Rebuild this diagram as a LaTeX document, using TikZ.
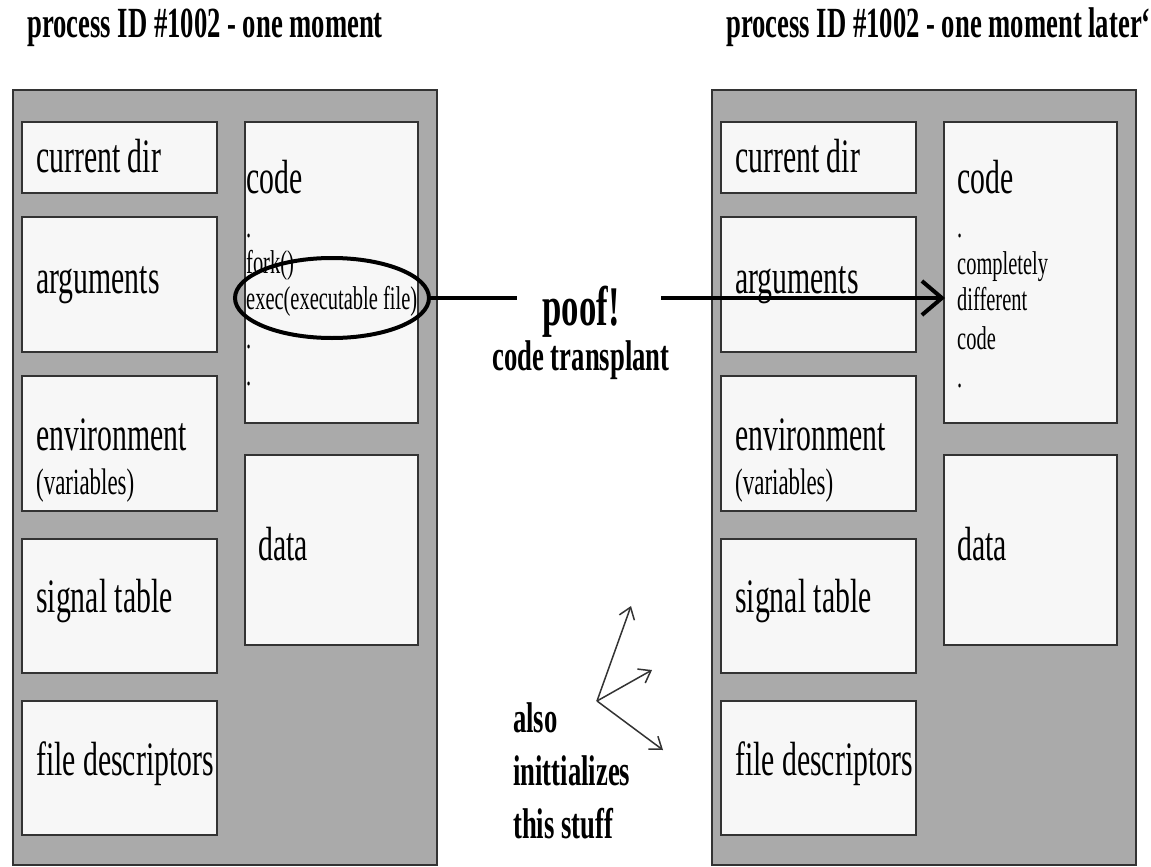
\documentclass[tikz,border=0pt]{standalone}
\usepackage{fontspec}
\setmainfont[FakeStretch=0.62]{Liberation Serif}
\usetikzlibrary{arrows.meta,shapes.geometric}
\definecolor{outerfill}{HTML}{AAAAAA}
\definecolor{innerfill}{HTML}{F7F7F7}
\definecolor{edgecol}{HTML}{333333}
\tikzset{
  outerbox/.style={draw=edgecol, line width=1.5pt, fill=outerfill, inner sep=0pt},
  innerbox/.style={draw=edgecol, line width=2.5pt, fill=innerfill, inner sep=0pt},
  biglbl/.style={anchor=base west, inner sep=0pt, font=\fontsize{48}{52}\selectfont},
  varlbl/.style={anchor=base west, inner sep=0pt, font=\fontsize{37}{40}\selectfont},
  smalllbl/.style={anchor=base west, inner sep=0pt, font=\fontsize{33}{36}\selectfont},
  titlelbl/.style={anchor=base west, inner sep=0pt, font=\bfseries\fontsize{43}{46}\selectfont},
  boldlbl/.style={anchor=base, inner sep=0pt, font=\bfseries\fontsize{43}{46}\selectfont},
  pooflbl/.style={anchor=base, inner sep=0pt, font=\bfseries\fontsize{56}{60}\selectfont},
  thickline/.style={line width=4pt, black},
  thinarrow/.style={line width=1.5pt, draw=black!80, -{Straight Barb[length=11pt,width=16pt]}},
}
\begin{document}
\begin{tikzpicture}[x=1pt,y=-1pt]
\useasboundingbox[fill=white] (0,0) rectangle (1151,867);

% titles
\node[titlelbl] (t1) at (27,38) {process ID \#1002 - one moment};
\node[titlelbl] (t2) at (726,38) {process ID \#1002 - one moment later`};

% ---------- left process ----------
\node[outerbox, minimum width=424pt, minimum height=775pt] (L) at (225,477.5) {};
\node[innerbox, minimum width=195pt, minimum height=71pt]  (Lcd)   at (119.5,157.5) {};
\node[innerbox, minimum width=195pt, minimum height=135pt] (Largs) at (119.5,284.5) {};
\node[innerbox, minimum width=195pt, minimum height=135pt] (Lenv)  at (119.5,443.5) {};
\node[innerbox, minimum width=195pt, minimum height=134pt] (Lsig)  at (119.5,606) {};
\node[innerbox, minimum width=195pt, minimum height=134pt] (Lfd)   at (119.5,768) {};
\node[innerbox, minimum width=173pt, minimum height=301pt] (Lcode) at (331.5,272.5) {};
\node[innerbox, minimum width=173pt, minimum height=190pt] (Ldata) at (331.5,550) {};

\node[biglbl] (Lcdt)   at (36,172) {current dir};
\node[biglbl] (Largst) at (36,293) {arguments};
\node[biglbl] (Lenvt)  at (36,450) {environment};
\node[varlbl] (Lvart)  at (36,494) {(variables)};
\node[biglbl] (Lsigt)  at (36,612) {signal table};
\node[biglbl] (Lfdt)   at (36,775) {file descriptors};
\node[biglbl] (Lcodet) at (246,193) {code};
\node[biglbl] (Ldatat) at (258,560) {data};
\node[smalllbl] (Ld1)   at (246,237) {.};
\node[smalllbl] (Lfork) at (246,273) {fork()};
\node[smalllbl] (Lexec) at (246,309) {exec(executable file)};
\node[smalllbl] (Ld2)   at (246,348) {.};
\node[smalllbl] (Ld3)   at (246,385) {.};

\node[draw, line width=4pt, ellipse, minimum width=194pt, minimum height=80pt, inner sep=0pt] (ell) at (332,298) {};

% ---------- right process ----------
\node[outerbox, minimum width=424pt, minimum height=775pt] (R) at (924,477.5) {};
\node[innerbox, minimum width=195pt, minimum height=71pt]  (Rcd)   at (818.5,157.5) {};
\node[innerbox, minimum width=195pt, minimum height=135pt] (Rargs) at (818.5,284.5) {};
\node[innerbox, minimum width=195pt, minimum height=135pt] (Renv)  at (818.5,443.5) {};
\node[innerbox, minimum width=195pt, minimum height=134pt] (Rsig)  at (818.5,606) {};
\node[innerbox, minimum width=195pt, minimum height=134pt] (Rfd)   at (818.5,768) {};
\node[innerbox, minimum width=173pt, minimum height=301pt] (Rcode) at (1030.5,272.5) {};
\node[innerbox, minimum width=173pt, minimum height=190pt] (Rdata) at (1030.5,550) {};

\node[biglbl] (Rcdt)   at (735,172) {current dir};
\node[biglbl] (Rargst) at (735,293) {arguments};
\node[biglbl] (Renvt)  at (735,450) {environment};
\node[varlbl] (Rvart)  at (735,494) {(variables)};
\node[biglbl] (Rsigt)  at (735,612) {signal table};
\node[biglbl] (Rfdt)   at (735,775) {file descriptors};
\node[biglbl] (Rcodet) at (957,193) {code};
\node[biglbl] (Rdatat) at (957,560) {data};
\node[smalllbl] (Rd1) at (957,237) {.};
\node[smalllbl] (Rc1) at (957,274) {completely};
\node[smalllbl] (Rc2) at (957,310) {different};
\node[smalllbl] (Rc3) at (957,349) {code};
\node[smalllbl] (Rd2) at (957,387) {.};

% ---------- middle ----------
\node[pooflbl] (poof) at (581,325) {poof!};
\node[boldlbl] (transplant) at (581,370) {code transplant};

\coordinate (lineend) at (517,298);
\coordinate (arrstart) at (661,298);
\coordinate (arrtip) at (945,298);
\draw[thickline] (ell.east) -- (lineend);
\draw[thickline, -{Straight Barb[length=20pt,width=34pt]}] (arrstart) -- (arrtip);

\coordinate (fan) at (597,701);
\coordinate (fan1) at (631,606);
\coordinate (fan2) at (652,670);
\coordinate (fan3) at (663,750);
\draw[thinarrow] (fan) -- (fan1);
\draw[thinarrow] (fan) -- (fan2);
\draw[thinarrow] (fan) -- (fan3);

\node[titlelbl] (also)  at (513,732) {also};
\node[titlelbl] (init)  at (513,785) {inittializes};
\node[titlelbl] (stuff) at (513,838) {this stuff};
\end{tikzpicture}
\end{document}
